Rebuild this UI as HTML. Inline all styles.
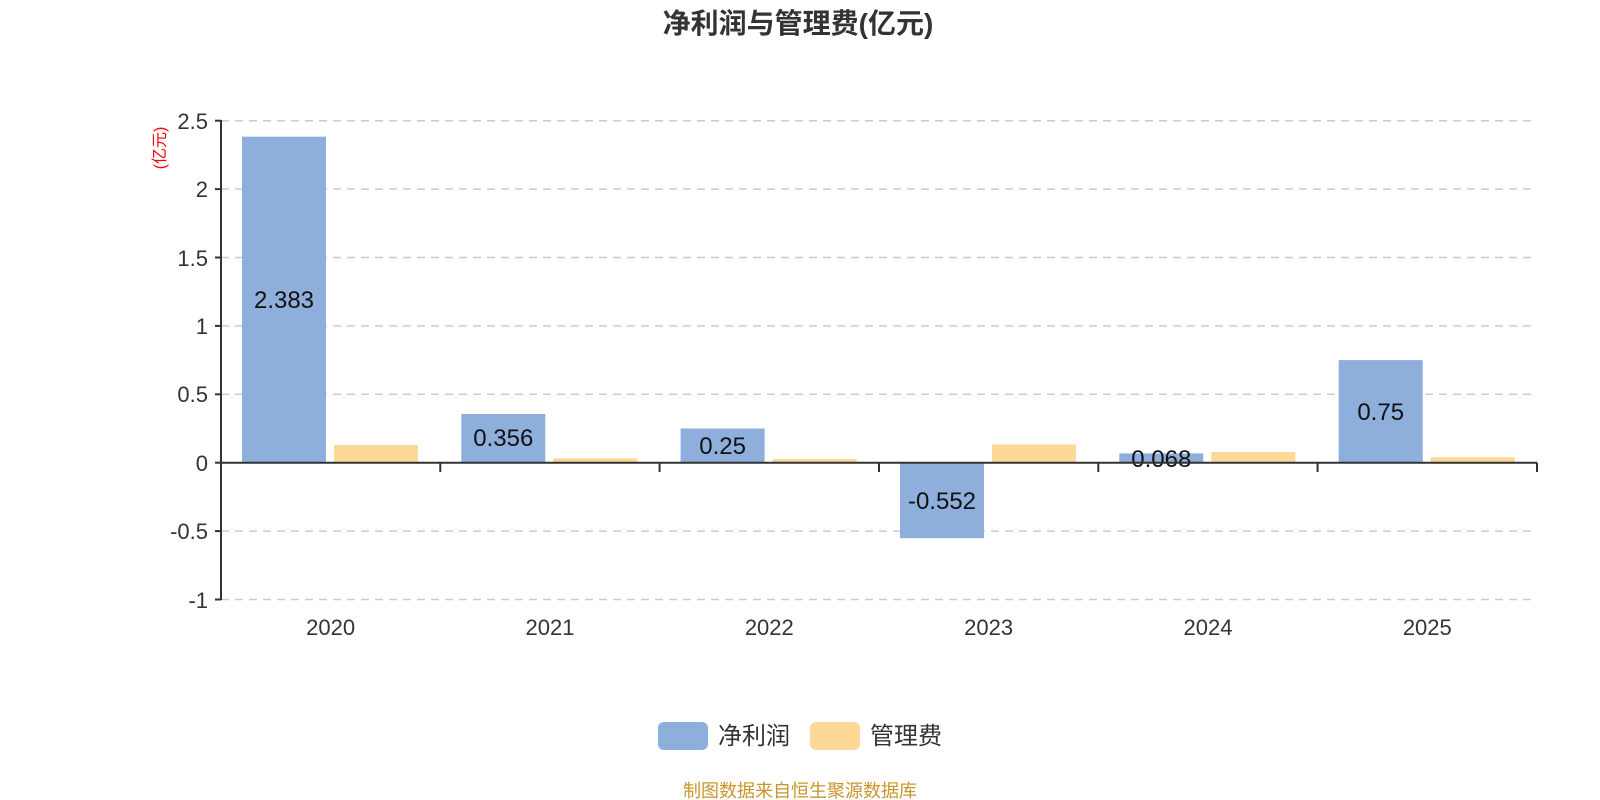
<!DOCTYPE html>
<html><head><meta charset="utf-8"><style>
html,body{margin:0;padding:0;background:#fff;}
svg{display:block;font-family:"Liberation Sans","Noto Sans CJK SC",sans-serif;}
</style></head><body>
<svg width="1600" height="800" viewBox="0 0 1600 800" xmlns="http://www.w3.org/2000/svg">
<text x="798" y="33" text-anchor="middle" font-size="28" font-weight="bold" fill="#333">净利润与管理费(亿元)</text>
<g stroke="#ccc" stroke-width="1.5" stroke-dasharray="8,6">
<line x1="221" y1="120.7" x2="1537" y2="120.7"/>
<line x1="221" y1="189.1" x2="1537" y2="189.1"/>
<line x1="221" y1="257.5" x2="1537" y2="257.5"/>
<line x1="221" y1="325.9" x2="1537" y2="325.9"/>
<line x1="221" y1="394.3" x2="1537" y2="394.3"/>
<line x1="221" y1="531.1" x2="1537" y2="531.1"/>
<line x1="221" y1="599.5" x2="1537" y2="599.5"/>
</g>
<g fill="#8eaedb">
<rect x="242" y="136.7" width="84" height="326"/>
<rect x="461.3" y="414" width="84" height="48.7"/>
<rect x="680.6" y="428.5" width="84" height="34.2"/>
<rect x="900" y="462.7" width="84" height="75.5"/>
<rect x="1119.3" y="453.4" width="84" height="9.3"/>
<rect x="1338.7" y="360.1" width="84" height="102.6"/>
</g>
<g fill="#fed898">
<rect x="334" y="445" width="84" height="17.7"/>
<rect x="553.3" y="458.3" width="84" height="4.4"/>
<rect x="772.6" y="459" width="84" height="3.7"/>
<rect x="992" y="444.4" width="84" height="18.3"/>
<rect x="1211.3" y="452" width="84" height="10.7"/>
<rect x="1430.7" y="457.2" width="84" height="5.5"/>
</g>
<g font-size="24" fill="#111" text-anchor="middle">
<text x="284" y="308">2.383</text>
<text x="503.3" y="446">0.356</text>
<text x="722.6" y="454">0.25</text>
<text x="942" y="509">-0.552</text>
<text x="1161.3" y="467">0.068</text>
<text x="1380.7" y="420">0.75</text>
</g>
<g stroke="#333" stroke-width="2">
<line x1="221" y1="120" x2="221" y2="600"/>
<line x1="221" y1="462.7" x2="1537" y2="462.7"/>
<line x1="215" y1="120.7" x2="221" y2="120.7"/>
<line x1="215" y1="189.1" x2="221" y2="189.1"/>
<line x1="215" y1="257.5" x2="221" y2="257.5"/>
<line x1="215" y1="325.9" x2="221" y2="325.9"/>
<line x1="215" y1="394.3" x2="221" y2="394.3"/>
<line x1="215" y1="462.7" x2="221" y2="462.7"/>
<line x1="215" y1="531.1" x2="221" y2="531.1"/>
<line x1="215" y1="599.5" x2="221" y2="599.5"/>
<line x1="221" y1="462.7" x2="221" y2="472"/>
<line x1="440.3" y1="462.7" x2="440.3" y2="472"/>
<line x1="659.6" y1="462.7" x2="659.6" y2="472"/>
<line x1="879" y1="462.7" x2="879" y2="472"/>
<line x1="1098.3" y1="462.7" x2="1098.3" y2="472"/>
<line x1="1317.6" y1="462.7" x2="1317.6" y2="472"/>
<line x1="1537" y1="462.7" x2="1537" y2="472"/>
</g>
<g font-size="22" fill="#333" text-anchor="end">
<text x="208" y="129">2.5</text>
<text x="208" y="197">2</text>
<text x="208" y="266">1.5</text>
<text x="208" y="334">1</text>
<text x="208" y="402">0.5</text>
<text x="208" y="471">0</text>
<text x="208" y="539">-0.5</text>
<text x="208" y="608">-1</text>
</g>
<g font-size="22" fill="#333" text-anchor="middle">
<text x="330.6" y="635">2020</text>
<text x="550" y="635">2021</text>
<text x="769.3" y="635">2022</text>
<text x="988.6" y="635">2023</text>
<text x="1208" y="635">2024</text>
<text x="1427.3" y="635">2025</text>
</g>
<text transform="translate(165,148) rotate(-90)" text-anchor="middle" font-size="16" fill="#f00">(亿元)</text>
<rect x="658" y="722" width="50" height="28" rx="6" fill="#8eaedb"/>
<text x="718" y="744" font-size="24" fill="#333">净利润</text>
<rect x="810" y="722" width="50" height="28" rx="6" fill="#fed898"/>
<text x="870" y="744" font-size="24" fill="#333">管理费</text>
<text x="800" y="797" text-anchor="middle" font-size="18" fill="#c8962a">制图数据来自恒生聚源数据库</text>
</svg>
</body></html>
